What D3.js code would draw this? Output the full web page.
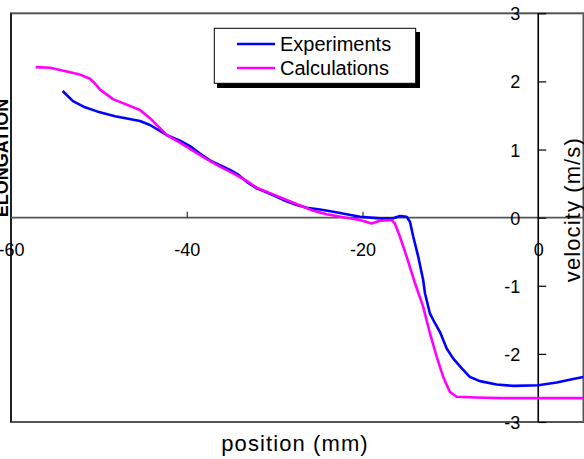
<!DOCTYPE html>
<html><head><meta charset="utf-8">
<script src="https://cdn.jsdelivr.net/npm/d3@7"></script>
<style>
html,body{margin:0;padding:0;background:#fff;}
svg{display:block;}
svg text{font-family:"Liberation Sans",Arial,sans-serif;}
</style></head>
<body>
<svg id="chart" width="584" height="459"></svg>
<script>
// ---- data ----
const expX = [-54.12,-52.95,-51.58,-50.21,-48.16,-45.32,-44.18,-42.25,-40.77,-39.63,-38.50,-37.36,-36.22,-35.08,-34.14,-33.00,-32.04,-30.52,-29.02,-27.49,-26.35,-24.84,-23.33,-21.80,-20.29,-18.01,-16.50,-15.74,-14.98,-14.60,-14.22,-13.66,-13.09,-12.89,-12.32,-11.75,-11.18,-10.42,-9.67,-8.72,-7.77,-6.64,-4.73,-2.84,0,2.09,3.98,5.12];
const expY = [1.86,1.71,1.62,1.56,1.49,1.42,1.36,1.21,1.13,1.05,0.94,0.84,0.77,0.70,0.63,0.51,0.43,0.35,0.26,0.185,0.145,0.12,0.087,0.05,0.013,-0.01,-0.01,0.023,0.013,-0.06,-0.28,-0.57,-0.92,-1.11,-1.41,-1.55,-1.68,-1.92,-2.07,-2.21,-2.34,-2.40,-2.45,-2.47,-2.46,-2.42,-2.37,-2.34];
const calX = [-57.19,-55.56,-52.15,-51.01,-50.44,-49.87,-48.39,-45.32,-44.18,-42.25,-40.77,-39.26,-37.73,-36.22,-34.71,-33.18,-32.04,-30.52,-28.63,-26.74,-25.60,-24.08,-22.19,-20.29,-18.96,-18.01,-16.68,-16.31,-15.74,-14.98,-14.03,-13.09,-12.32,-11.56,-10.81,-10.05,-9.29,-7.01,-4.36,0.19,5.12];
const calY = [2.21,2.20,2.10,2.04,1.97,1.88,1.74,1.58,1.46,1.21,1.10,0.98,0.86,0.75,0.65,0.54,0.44,0.36,0.26,0.16,0.10,0.05,0.005,-0.035,-0.085,-0.045,-0.035,-0.085,-0.28,-0.57,-0.96,-1.31,-1.70,-2.04,-2.34,-2.56,-2.63,-2.64,-2.65,-2.65,-2.65];
const xTicks = [-60,-40,-20,0];
const yTicks = [-3,-2,-1,0,1,2,3];
const seriesNames = ["Experiments","Calculations"];
const seriesColors = ["#0000ff","#ff00ff"];
const xTitle = "position (mm)";
const yTitle = "velocity (m/s)";
const leftTitle = "ELONGATION";

// ---- layout ----
const svg = d3.select("#chart");
const L = 11, R = 583.5, T = 13.3, B = 422;
const x = d3.scaleLinear().domain([-60, 5.15]).range([L, R]);
const y = d3.scaleLinear().domain([-3, 3]).range([B, T]);
const fmt = d => String(d);

// left cut-off title
svg.append("text")
  .attr("transform", `translate(8,158) rotate(-90)`)
  .attr("text-anchor","middle")
  .attr("font-size", 18).attr("font-weight","bold")
  .attr("fill","#000")
  .text(leftTitle);

// frame
svg.append("rect").attr("x",L).attr("y",T).attr("width",R-L).attr("height",B-T)
  .attr("fill","none").attr("stroke","#555").attr("stroke-width",2);
svg.append("line").attr("x1",L).attr("x2",L).attr("y1",T).attr("y2",B)
  .attr("stroke","#222").attr("stroke-width",2);

// x axis along y=0
const xAxis = d3.axisBottom(x).tickValues(xTicks).tickSize(-6).tickFormat(fmt);
const gx = svg.append("g").attr("transform",`translate(0,${y(0)})`).call(xAxis);
gx.attr("font-family",null);
gx.select(".domain").attr("stroke","#555").attr("stroke-width",1.6).attr("d",`M${L},0H${R}`);
gx.selectAll(".tick line").attr("stroke","#333").attr("stroke-width",1.2);
gx.selectAll(".tick text").attr("font-size",18)
  .attr("fill","#000").attr("y",null).attr("dy",null).attr("transform","translate(0,38)");
gx.selectAll(".tick").filter(d=>d===0).select("line").remove();
gx.selectAll(".tick").filter(d=>d===-60).select("line").remove();

// secondary y axis at x=0
const yAxis = d3.axisRight(y).tickValues(yTicks).tickSize(8).tickFormat(fmt);
const gy = svg.append("g").attr("transform",`translate(${x(0)},0)`).call(yAxis);
gy.attr("font-family",null);
gy.select(".domain").attr("stroke","#000").attr("stroke-width",1.6).attr("d",`M0,${T}V${B}`);
gy.selectAll(".tick line").attr("stroke","#000").attr("stroke-width",1.2);
gy.selectAll(".tick text").attr("font-size",18)
  .attr("fill","#000").attr("x",-18).attr("text-anchor","end").attr("dy","0.36em");

// lines
const line = d3.line().x(d=>x(d[0])).y(d=>y(d[1])).curve(d3.curveLinear);
const expData = expX.map((v,i)=>[v,expY[i]]);
const calData = calX.map((v,i)=>[v,calY[i]]);
svg.append("path").datum(expData).attr("d",line).attr("fill","none")
  .attr("stroke",seriesColors[0]).attr("stroke-width",2.6).attr("stroke-linejoin","round");
svg.append("path").datum(calData).attr("d",line).attr("fill","none")
  .attr("stroke",seriesColors[1]).attr("stroke-width",2.6).attr("stroke-linejoin","round");

// titles
svg.append("text").attr("x",295).attr("y",451).attr("text-anchor","middle")
  .attr("font-size",22).attr("letter-spacing",1.1).attr("fill","#000").text(xTitle);
svg.append("text").attr("transform",`translate(580,${(T+B)/2 - 8}) rotate(-90)`)
  .attr("text-anchor","middle").attr("font-size",22).attr("letter-spacing",1.1)
  .attr("fill","#000").text(yTitle);

// legend
const lg = svg.append("g");
lg.append("rect").attr("x",217).attr("y",32).attr("width",203).attr("height",56).attr("fill","#000");
lg.append("rect").attr("x",214.3).attr("y",28.3).attr("width",201.4).attr("height",55)
  .attr("fill","#fff").attr("stroke","#000").attr("stroke-width",1);
seriesNames.forEach((n,i)=>{
  const yy = 44 + i*24;
  lg.append("line").attr("x1",237).attr("x2",275).attr("y1",yy).attr("y2",yy)
    .attr("stroke",seriesColors[i]).attr("stroke-width",2.6);
  lg.append("text").attr("x",280).attr("y",yy+6.5).attr("font-size",20)
    .attr("fill","#000").text(n);
});
</script>
</body></html>
